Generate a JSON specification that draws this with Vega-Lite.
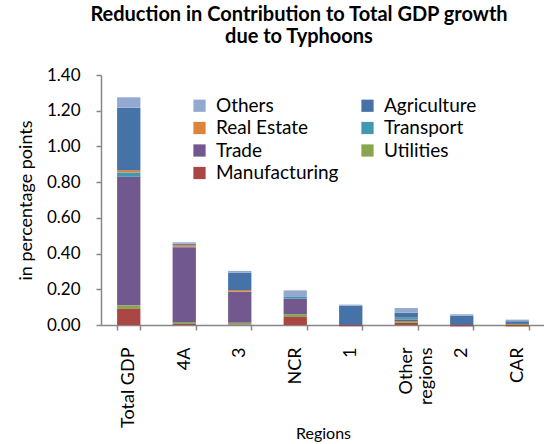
{
  "$schema": "https://vega.github.io/schema/vega-lite/v6.json",
  "width": 444,
  "height": 250,
  "padding": {"left": 17, "top": 5, "right": 0, "bottom": 0},
  "background": "white",
  "title": {
    "text": ["Reduction in Contribution to Total  GDP growth", "due to Typhoons"],
    "font": "Lato",
    "fontSize": 20,
    "fontWeight": "bold",
    "color": "#000000",
    "anchor": "middle",
    "dx": -24,
    "offset": 19,
    "lineHeight": 22
  },
  "data": {
    "values": [
      {"region": "Total GDP", "sector": "Manufacturing", "value": 0.09},
      {"region": "Total GDP", "sector": "Utilities", "value": 0.02},
      {"region": "Total GDP", "sector": "Trade", "value": 0.72},
      {"region": "Total GDP", "sector": "Transport", "value": 0.024},
      {"region": "Total GDP", "sector": "Real Estate", "value": 0.013},
      {"region": "Total GDP", "sector": "Agriculture", "value": 0.35},
      {"region": "Total GDP", "sector": "Others", "value": 0.058},
      {"region": "4A", "sector": "Manufacturing", "value": 0.006},
      {"region": "4A", "sector": "Utilities", "value": 0.01},
      {"region": "4A", "sector": "Trade", "value": 0.42},
      {"region": "4A", "sector": "Transport", "value": 0.003},
      {"region": "4A", "sector": "Real Estate", "value": 0.01},
      {"region": "4A", "sector": "Agriculture", "value": 0.006},
      {"region": "4A", "sector": "Others", "value": 0.008},
      {"region": "3", "sector": "Manufacturing", "value": 0.003},
      {"region": "3", "sector": "Utilities", "value": 0.01},
      {"region": "3", "sector": "Trade", "value": 0.172},
      {"region": "3", "sector": "Transport", "value": 0.003},
      {"region": "3", "sector": "Real Estate", "value": 0.008},
      {"region": "3", "sector": "Agriculture", "value": 0.097},
      {"region": "3", "sector": "Others", "value": 0.01},
      {"region": "NCR", "sector": "Manufacturing", "value": 0.045},
      {"region": "NCR", "sector": "Utilities", "value": 0.015},
      {"region": "NCR", "sector": "Trade", "value": 0.088},
      {"region": "NCR", "sector": "Transport", "value": 0.009},
      {"region": "NCR", "sector": "Others", "value": 0.037},
      {"region": "1", "sector": "Manufacturing", "value": -0.007},
      {"region": "1", "sector": "Agriculture", "value": 0.108},
      {"region": "1", "sector": "Others", "value": 0.006},
      {"region": "Other regions", "sector": "Manufacturing", "value": 0.012},
      {"region": "Other regions", "sector": "Utilities", "value": 0.01},
      {"region": "Other regions", "sector": "Trade", "value": 0.009},
      {"region": "Other regions", "sector": "Transport", "value": 0.008},
      {"region": "Other regions", "sector": "Real Estate", "value": 0.002},
      {"region": "Other regions", "sector": "Agriculture", "value": 0.028},
      {"region": "Other regions", "sector": "Others", "value": 0.026},
      {"region": "2", "sector": "Manufacturing", "value": -0.008},
      {"region": "2", "sector": "Agriculture", "value": 0.052},
      {"region": "2", "sector": "Others", "value": 0.008},
      {"region": "CAR", "sector": "Manufacturing", "value": -0.008},
      {"region": "CAR", "sector": "Utilities", "value": 0.006},
      {"region": "CAR", "sector": "Agriculture", "value": 0.015},
      {"region": "CAR", "sector": "Others", "value": 0.009}
    ]
  },
  "transform": [
    {"calculate": "indexof(['Manufacturing','Utilities','Trade','Transport','Real Estate','Agriculture','Others'], datum.sector)", "as": "stackOrder"}
  ],
  "mark": {"type": "bar"},
  "encoding": {
    "x": {
      "field": "region",
      "type": "nominal",
      "sort": ["Total GDP", "4A", "3", "NCR", "1", "Other regions", "2", "CAR"],
      "scale": {"paddingInner": 0.58, "paddingOuter": 0.29},
      "axis": {
        "title": "Regions",
        "labelAngle": -90,
        "labelAlign": "right",
        "labelBaseline": "middle",
        "labelPadding": 17,
        "labelFontSize": 18,
        "labelExpr": "datum.value == 'Other regions' ? ['Other', 'regions'] : datum.value",
        "labelLineHeight": 20,
        "tickBand": "extent",
        "tickSize": 5,
        "titlePadding": -2,
        "titleFontSize": 16
      }
    },
    "y": {
      "field": "value",
      "type": "quantitative",
      "stack": "zero",
      "scale": {"domain": [0, 1.4], "nice": false},
      "axis": {
        "title": "in percentage points",
        "values": [0, 0.2, 0.4, 0.6, 0.8, 1.0, 1.2, 1.4],
        "format": ".2f",
        "grid": false,
        "tickSize": 5,
        "labelPadding": 16,
        "labelFontSize": 17,
        "titlePadding": 11,
        "titleFontSize": 18
      }
    },
    "color": {
      "field": "sector",
      "type": "nominal",
      "scale": {
        "domain": ["Others", "Real Estate", "Trade", "Manufacturing", "Agriculture", "Transport", "Utilities"],
        "range": ["#93A9CF", "#DB843D", "#71588F", "#AA4643", "#4572A7", "#4198AF", "#89A54E"]
      },
      "legend": {
        "title": null,
        "orient": "none",
        "legendX": 89,
        "legendY": 21,
        "columns": 2,
        "symbolType": "square",
        "symbolSize": 150,
        "symbolStrokeWidth": 0,
        "labelFontSize": 19,
        "labelFont": "Lato",
        "labelColor": "#000000",
        "labelOffset": 7,
        "rowPadding": 2.5,
        "columnPadding": 19,
        "labelLimit": 200
      }
    },
    "order": {"field": "stackOrder", "type": "quantitative", "sort": "ascending"}
  },
  "config": {
    "view": {"stroke": null},
    "axis": {
      "labelFont": "Lato",
      "titleFont": "Lato",
      "titleFontWeight": "normal",
      "labelColor": "#000000",
      "titleColor": "#000000",
      "domainColor": "#878787",
      "tickColor": "#878787",
      "domainWidth": 1.5,
      "tickWidth": 1.5
    }
  }
}
